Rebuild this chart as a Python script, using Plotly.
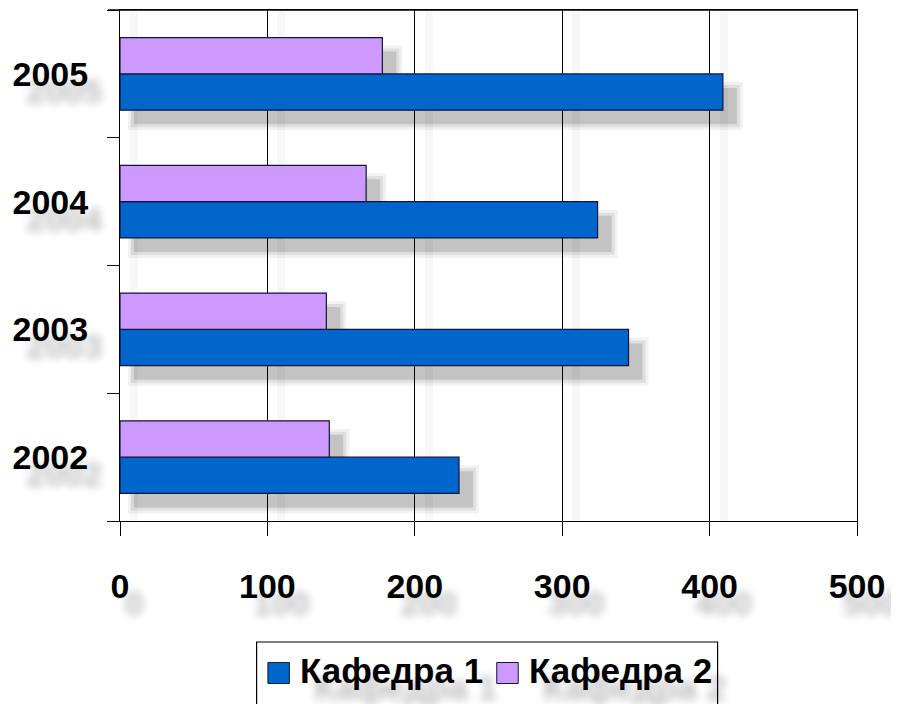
import plotly.graph_objects as go

years = ["2002", "2003", "2004", "2005"]
kaf1 = [230, 345, 324, 409]
kaf2 = [142, 140, 167, 178]
series_names = ["Кафедра 1", "Кафедра 2"]
colors = ["#0066CC", "#CC99FF"]
x_ticks = [0, 100, 200, 300, 400, 500]

W, H = 899, 704
PAGE_OFF = 8  # default body margin of the html page
PL, PR, PT, PB = 120, 857.5, 10, 521  # plot area in page pixels
L = PL - PAGE_OFF
T = PT - PAGE_OFF
R = W - (PR - PAGE_OFF)
B = H - (PB - PAGE_OFF)
plot_w = PR - PL
plot_h = PB - PT
xmax = 500
px_per_unit = plot_w / xmax
px_per_cat = plot_h / len(years)
bw = 36.3 / px_per_cat

FONT = "Liberation Sans, Arial, sans-serif"
TXT_SHADOW = "14px 17px 9px rgba(0,0,0,0.26)"

fig = go.Figure()

# soft drop shadows on the (hidden) base axes, shifted down-right
sh_dx, sh_dy = 14, 14
for grow, alpha in [(6, 0.05), (3, 0.08), (0, 0.12)]:
    for vals, off in [(kaf1, -bw), (kaf2, 0.0)]:
        g_units = grow / px_per_unit
        g_cat = grow / px_per_cat
        fig.add_trace(go.Bar(
            y=years, x=[v + 2 * g_units for v in vals], base=-g_units,
            orientation="h", width=bw + 2 * g_cat, offset=off - g_cat,
            marker=dict(color=f"rgba(0,0,0,{alpha})", line=dict(width=0)),
            xaxis="x", yaxis="y", showlegend=False, hoverinfo="skip",
        ))

# real bars on the visible overlay axes
for name, vals, col, off in [(series_names[0], kaf1, colors[0], -bw),
                             (series_names[1], kaf2, colors[1], 0.0)]:
    fig.add_trace(go.Bar(
        y=years, x=vals, name=name, orientation="h",
        width=bw, offset=off,
        marker=dict(color=col, line=dict(color="#14143c", width=1.2)),
        xaxis="x2", yaxis="y2", showlegend=False,
    ))

shift_x = sh_dx / px_per_unit
shift_y = sh_dy / px_per_cat

fig.update_layout(
    width=W, height=H,
    margin=dict(l=L, r=R, t=T, b=B, autoexpand=False),
    paper_bgcolor="white", plot_bgcolor="white",
    barmode="overlay",
    font=dict(family=FONT, color="black"),
    # hidden base axes: carry the shadow bars and soft gridline shadows
    xaxis=dict(range=[-shift_x, xmax - shift_x], tickvals=x_ticks,
               showticklabels=False, ticks="", zeroline=False, showline=False,
               showgrid=True, gridcolor="rgba(0,0,0,0.03)", gridwidth=8,
               fixedrange=True),
    yaxis=dict(type="category", categoryorder="array", categoryarray=years,
               range=[-0.5 + shift_y, len(years) - 0.5 + shift_y],
               visible=False, fixedrange=True),
    xaxis2=dict(
        overlaying="x", side="bottom", anchor="y2",
        range=[0, xmax], tickvals=x_ticks, showgrid=True, gridcolor="black",
        gridwidth=1, zeroline=False, showline=True, linecolor="black",
        linewidth=1, mirror=True, ticks="outside", ticklen=14, tickcolor="black",
        tickfont=dict(family=FONT, size=34, weight="bold", shadow=TXT_SHADOW),
        ticklabelstandoff=21, fixedrange=True,
    ),
    yaxis2=dict(
        overlaying="y", side="left", anchor="x2",
        type="category", categoryorder="array", categoryarray=years,
        range=[-0.5, len(years) - 0.5], tickson="boundaries",
        showgrid=False, zeroline=False, showline=True, linecolor="black",
        linewidth=1, mirror=True, ticks="outside", ticklen=12, tickcolor="black",
        tickfont=dict(family=FONT, size=34, weight="bold", shadow=TXT_SHADOW),
        ticklabelstandoff=24, fixedrange=True,
    ),
)

# page pixel -> paper coordinates (for frame line and custom legend)
def px2paper_x(px):
    return (px - PL) / plot_w

def px2paper_y(py):
    return (PB - py) / plot_h

shapes = [
    # top frame line of the plot area (with the outward category tick)
    dict(type="line", xref="paper", yref="paper",
         x0=px2paper_x(108), x1=1, y0=1, y1=1,
         line=dict(color="black", width=1.6), layer="above"),
    dict(type="rect", xref="paper", yref="paper",
         x0=px2paper_x(256.7), x1=px2paper_x(718),
         y0=px2paper_y(720), y1=px2paper_y(642),
         line=dict(color="black", width=1.2), fillcolor="white", layer="above"),
]
items = [(series_names[0], colors[0], 268), (series_names[1], colors[1], 497)]
for name, col, sx in items:
    shapes.append(dict(type="rect", xref="paper", yref="paper",
                       x0=px2paper_x(sx), x1=px2paper_x(sx + 21.5),
                       y0=px2paper_y(683.5), y1=px2paper_y(662.5),
                       line=dict(color="#14143c", width=1), fillcolor=col,
                       layer="above"))
    fig.add_annotation(xref="paper", yref="paper", x=px2paper_x(sx + 30),
                       y=px2paper_y(670), xanchor="left", yanchor="middle",
                       text=name, showarrow=False,
                       font=dict(family=FONT, size=35, weight="bold",
                                 shadow=TXT_SHADOW))
fig.update_layout(shapes=shapes)

fig.write_html("out.html")
